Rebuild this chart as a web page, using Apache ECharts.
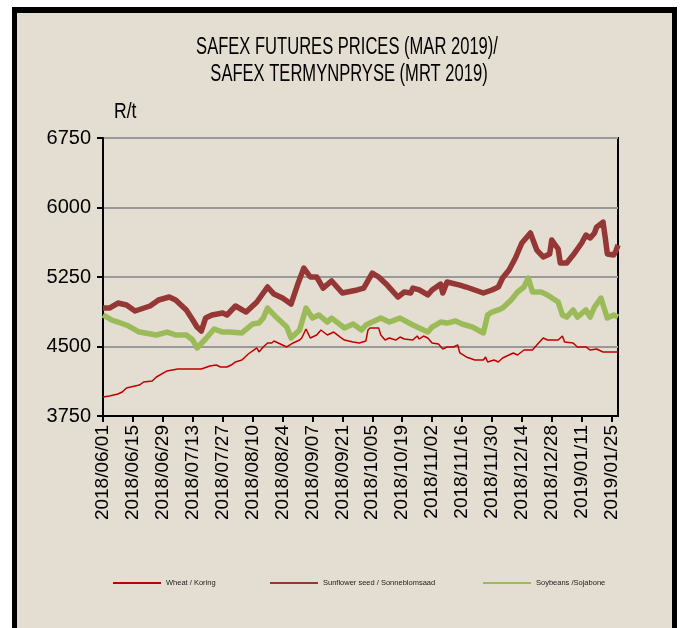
<!DOCTYPE html>
<html>
<head>
<meta charset="utf-8">
<title>SAFEX futures prices</title>
<script src="https://cdn.jsdelivr.net/npm/echarts@6/dist/echarts.min.js"></script>
<style>
  html, body { margin: 0; padding: 0; background: #fff; overflow: hidden; }
  #frame {
    position: absolute; left: 12px; top: 7px; width: 655px; height: 700px;
    border: 5px solid #000; border-top-width: 6px; background: #e4ddd1;
  }
  #chart { position: absolute; left: 0; top: 0; width: 682px; height: 628px; }
</style>
</head>
<body>
<div id="frame"></div>
<div id="chart"></div>
<script>
// 値はすべて画像から目視で読み取ったもの（R/t）
const wheatDates = [
  '2018/06/01', '2018/06/04', '2018/06/08', '2018/06/10', '2018/06/12', '2018/06/16', '2018/06/18',
  '2018/06/20', '2018/06/24', '2018/06/26', '2018/07/01', '2018/07/06', '2018/07/17', '2018/07/21',
  '2018/07/24', '2018/07/26', '2018/07/29', '2018/07/31', '2018/08/02', '2018/08/05', '2018/08/08',
  '2018/08/12', '2018/08/13', '2018/08/15', '2018/08/17', '2018/08/19', '2018/08/20', '2018/08/23',
  '2018/08/26', '2018/08/29', '2018/09/01', '2018/09/02', '2018/09/04', '2018/09/06', '2018/09/09',
  '2018/09/11', '2018/09/14', '2018/09/17', '2018/09/20', '2018/09/22', '2018/09/26', '2018/09/29',
  '2018/10/02', '2018/10/03', '2018/10/04', '2018/10/08', '2018/10/09', '2018/10/11', '2018/10/13',
  '2018/10/16', '2018/10/18', '2018/10/20', '2018/10/24', '2018/10/26', '2018/10/27', '2018/10/29',
  '2018/10/31', '2018/11/02', '2018/11/05', '2018/11/07', '2018/11/09', '2018/11/12', '2018/11/14',
  '2018/11/15', '2018/11/18', '2018/11/22', '2018/11/26', '2018/11/27', '2018/11/28', '2018/12/01',
  '2018/12/03', '2018/12/05', '2018/12/10', '2018/12/12', '2018/12/15', '2018/12/19', '2018/12/21',
  '2018/12/24', '2018/12/26', '2018/12/31', '2019/01/02', '2019/01/03', '2019/01/07', '2019/01/09',
  '2019/01/13', '2019/01/15', '2019/01/18', '2019/01/21', '2019/01/26', '2019/01/28',
];
const wheatPrices = [
  3955, 3966, 3987, 4009, 4052, 4074, 4084,
  4117, 4128, 4171, 4236, 4257, 4257, 4290,
  4300, 4279, 4279, 4300, 4333, 4354, 4419,
  4484, 4441, 4495, 4538, 4538, 4559, 4527,
  4495, 4538, 4570, 4592, 4689, 4592, 4624,
  4678, 4624, 4656, 4602, 4570, 4548, 4538,
  4559, 4678, 4700, 4700, 4624, 4570, 4592,
  4570, 4602, 4581, 4570, 4613, 4581, 4613,
  4592, 4538, 4527, 4473, 4495, 4495, 4516,
  4430, 4387, 4354, 4354, 4387, 4333, 4354,
  4333, 4376, 4430, 4408, 4462, 4462, 4516,
  4592, 4570, 4570, 4613, 4548, 4538, 4495,
  4495, 4462, 4473, 4441, 4441, 4441,
];

const sunDates = [
  '2018/06/01', '2018/06/04', '2018/06/08', '2018/06/12', '2018/06/16', '2018/06/23', '2018/06/27',
  '2018/07/02', '2018/07/05', '2018/07/10', '2018/07/13', '2018/07/15', '2018/07/17', '2018/07/19',
  '2018/07/22', '2018/07/27', '2018/07/29', '2018/08/02', '2018/08/07', '2018/08/12', '2018/08/17',
  '2018/08/20', '2018/08/24', '2018/08/28', '2018/08/31', '2018/09/03', '2018/09/06', '2018/09/09',
  '2018/09/12', '2018/09/16', '2018/09/21', '2018/09/28', '2018/10/01', '2018/10/05', '2018/10/08',
  '2018/10/12', '2018/10/17', '2018/10/20', '2018/10/23', '2018/10/24', '2018/10/27', '2018/10/31',
  '2018/11/02', '2018/11/06', '2018/11/07', '2018/11/09', '2018/11/15', '2018/11/18', '2018/11/22',
  '2018/11/26', '2018/11/30', '2018/12/03', '2018/12/05', '2018/12/08', '2018/12/11', '2018/12/14',
  '2018/12/18', '2018/12/21', '2018/12/24', '2018/12/27', '2018/12/28', '2018/12/31', '2019/01/01',
  '2019/01/04', '2019/01/07', '2019/01/11', '2019/01/13', '2019/01/15', '2019/01/17', '2019/01/18',
  '2019/01/21', '2019/01/22', '2019/01/23', '2019/01/26', '2019/01/27', '2019/01/28',
];
const sunPrices = [
  4915, 4915, 4969, 4948, 4883, 4937, 5002,
  5034, 5002, 4894, 4786, 4710, 4667, 4807,
  4840, 4861, 4840, 4937, 4872, 4980, 5142,
  5066, 5023, 4958, 5163, 5347, 5250, 5250,
  5131, 5207, 5077, 5110, 5131, 5293, 5250,
  5163, 5034, 5088, 5077, 5131, 5110, 5056,
  5110, 5174, 5077, 5196, 5163, 5142, 5110,
  5077, 5110, 5142, 5239, 5325, 5455, 5617,
  5725, 5541, 5466, 5498, 5649, 5552, 5401,
  5401, 5487, 5617, 5703, 5671, 5725, 5789,
  5843, 5681, 5498, 5487, 5530, 5595,
];

const soyDates = [
  '2018/06/01', '2018/06/05', '2018/06/08', '2018/06/13', '2018/06/18', '2018/06/26', '2018/07/01',
  '2018/07/05', '2018/07/10', '2018/07/13', '2018/07/15', '2018/07/19', '2018/07/23', '2018/07/27',
  '2018/07/30', '2018/08/05', '2018/08/10', '2018/08/13', '2018/08/15', '2018/08/17', '2018/08/21',
  '2018/08/26', '2018/08/28', '2018/09/01', '2018/09/04', '2018/09/07', '2018/09/10', '2018/09/14',
  '2018/09/16', '2018/09/22', '2018/09/26', '2018/09/30', '2018/10/02', '2018/10/07', '2018/10/09',
  '2018/10/13', '2018/10/18', '2018/10/24', '2018/10/31', '2018/11/02', '2018/11/06', '2018/11/09',
  '2018/11/13', '2018/11/16', '2018/11/21', '2018/11/26', '2018/11/28', '2018/11/30', '2018/12/03',
  '2018/12/05', '2018/12/09', '2018/12/12', '2018/12/15', '2018/12/17', '2018/12/19', '2018/12/23',
  '2018/12/26', '2018/12/31', '2019/01/02', '2019/01/04', '2019/01/07', '2019/01/09', '2019/01/13',
  '2019/01/15', '2019/01/17', '2019/01/20', '2019/01/23', '2019/01/26', '2019/01/28',
];
const soyPrices = [
  4840, 4786, 4764, 4721, 4656, 4624, 4656,
  4624, 4624, 4570, 4484, 4581, 4689, 4656,
  4656, 4646, 4743, 4753, 4807, 4915, 4818,
  4710, 4592, 4678, 4915, 4807, 4840, 4764,
  4807, 4700, 4743, 4678, 4732, 4786, 4807,
  4764, 4807, 4732, 4656, 4710, 4764, 4753,
  4775, 4743, 4710, 4646, 4840, 4872, 4894,
  4915, 5002, 5088, 5142, 5239, 5088, 5088,
  5056, 4980, 4840, 4818, 4894, 4818, 4894,
  4818, 4926, 5023, 4807, 4840, 4818,
];

const seriesNames = ['Wheat / Koring', 'Sunflower seed / Sonneblomsaad', 'Soybeans /Sojabone'];
const titleLines = ['SAFEX FUTURES PRICES (MAR 2019)/', 'SAFEX TERMYNPRYSE (MRT 2019)'];
const yTicks = [3750, 4500, 5250, 6000, 6750];
const xStart = '2018/06/01';
const xEnd = '2019/01/28';
const xStepDays = 14;

(() => {
  const DAY = 86400000;
  const ARIAL = '"Liberation Sans", Arial, sans-serif';
  const toUtc = (s) => { const [y, m, d] = s.split('/').map(Number); return Date.UTC(y, m - 1, d); };
  const t0 = toUtc(xStart);
  const dayOf = (s) => Math.round((toUtc(s) - t0) / DAY);
  const fmt = (v) => {
    const d = new Date(t0 + v * DAY);
    const p = (n) => String(n).padStart(2, '0');
    return `${d.getUTCFullYear()}/${p(d.getUTCMonth() + 1)}/${p(d.getUTCDate())}`;
  };
  const pairs = (dates, vals) => dates.map((s, i) => [dayOf(s), vals[i]]);

  // 細字フォントが無いので横方向に縮めて近づける
  const narrowText = (text, x, y, size, sx, align) => ({
    type: 'text',
    x, y,
    scaleX: sx,
    silent: true,
    style: {
      text,
      fontFamily: ARIAL,
      fontSize: size,
      fill: '#000',
      align, textAlign: align,
      verticalAlign: 'middle', textVerticalAlign: 'middle',
    },
  });

  const chart = echarts.init(document.getElementById('chart'), null, { renderer: 'canvas' });

  const legendOf = (name, left) => ({
    data: [name],
    left,
    top: 574,
    icon: 'rect',
    itemWidth: 48,
    itemHeight: 2,
    itemGap: 0,
    textStyle: { fontFamily: ARIAL, fontSize: 7.5, color: '#222' },
  });

  chart.setOption({
    backgroundColor: 'transparent',
    animation: false,
    graphic: [
      narrowText(titleLines[0], 347, 48, 23, 0.72, 'center'),
      narrowText(titleLines[1], 349, 75, 23, 0.72, 'center'),
      narrowText('R/t', 114, 112, 22, 0.8, 'left'),
    ],
    legend: [
      legendOf(seriesNames[0], 108),
      legendOf(seriesNames[1], 265),
      legendOf(seriesNames[2], 478),
    ],
    grid: {
      left: 103, right: 64, top: 138, bottom: 212,
      show: true, borderColor: '#000', borderWidth: 2, backgroundColor: 'transparent',
    },
    xAxis: {
      type: 'value',
      min: 0,
      max: dayOf(xEnd),
      interval: xStepDays,
      axisLine: { lineStyle: { color: '#000', width: 2 } },
      axisTick: { show: true, length: 6, lineStyle: { color: '#000', width: 2 } },
      splitLine: { show: false },
      axisLabel: {
        rotate: 90,
        margin: 9,
        showMaxLabel: false,
        color: '#000',
        fontFamily: ARIAL,
        fontSize: 19,
        formatter: (v) => fmt(v),
      },
    },
    yAxis: {
      type: 'value',
      min: yTicks[0],
      max: yTicks[yTicks.length - 1],
      interval: yTicks[1] - yTicks[0],
      axisLine: { show: true, lineStyle: { color: '#000', width: 2 } },
      axisTick: { show: true, length: 6, lineStyle: { color: '#000', width: 2 } },
      splitLine: { lineStyle: { color: '#999', width: 2 } },
      axisLabel: { margin: 12, color: '#000', fontFamily: ARIAL, fontSize: 20, formatter: (v) => String(v) },
    },
    series: [
      {
        name: seriesNames[0], type: 'line', data: pairs(wheatDates, wheatPrices), z: 4,
        showSymbol: false, color: '#c00000', lineStyle: { color: '#c00000', width: 1.5 },
      },
      {
        name: seriesNames[1], type: 'line', data: pairs(sunDates, sunPrices), z: 3,
        showSymbol: false, color: '#953735', lineStyle: { color: '#953735', width: 5.5, join: 'round' },
      },
      {
        name: seriesNames[2], type: 'line', data: pairs(soyDates, soyPrices), z: 3,
        showSymbol: false, color: '#9bbb59', lineStyle: { color: '#9bbb59', width: 5.5, join: 'round' },
      },
    ],
  });
})();
</script>
</body>
</html>
